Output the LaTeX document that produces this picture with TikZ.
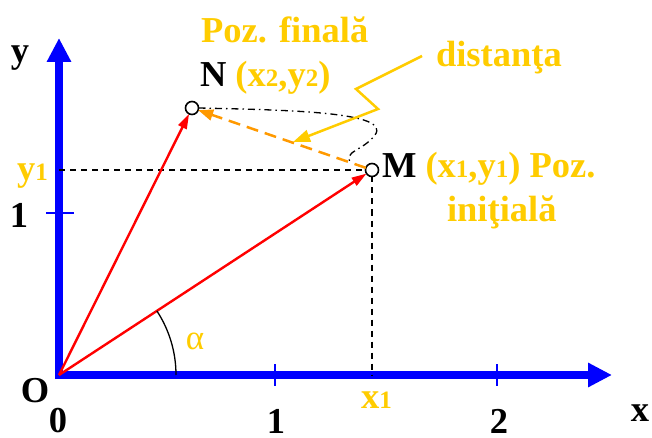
\documentclass[tikz,border=0pt]{standalone}
\usepackage{fontspec}
\setmainfont{Liberation Serif}
\usetikzlibrary{arrows.meta}
\definecolor{gold}{RGB}{255,204,0}
\definecolor{orng}{RGB}{255,153,0}
\newcommand\sbs[1]{{\fontsize{25}{25}\selectfont #1}}
\begin{document}
\begin{tikzpicture}[x=1pt,y=-1pt,
  every node/.style={inner sep=0pt, outer sep=0pt},
  big/.style={font=\fontsize{36.5}{40}\selectfont\bfseries},
  greek/.style={font=\fontsize{35}{40}\selectfont},
  axisline/.style={blue, line width=8pt, -{Triangle[length=24pt,width=23pt]}},
  tickmark/.style={blue, line width=2pt},
  vec/.style={red, line width=2.4pt, -{Triangle[length=15pt,width=9pt]}},
  guide/.style={black, line width=1.3pt, dash pattern=on 6pt off 5pt},
  dashdot/.style={black, line width=1.3pt, dash pattern=on 7pt off 4pt on 1.5pt off 4pt},
  pnt/.style={circle, draw=black, fill=white, line width=1.6pt, minimum size=13pt},
  zig/.style={gold, line width=2.5pt, -{Triangle[length=17pt,width=12pt]}},
  dist/.style={orng, line width=2.5pt, dash pattern=on 12pt off 7pt, -{Triangle[length=15pt,width=11pt]}}]
\useasboundingbox (0,0) rectangle (652,438);

% axes
\coordinate (O) at (59,375);
\coordinate (xstart) at (55,375);
\coordinate (xend) at (612,375);
\coordinate (ystart) at (59,379);
\coordinate (yend) at (59,38);
\draw[axisline] (xstart) -- (xend);
\draw[axisline] (ystart) -- (yend);

% ticks
\coordinate (t1a) at (275,364); \coordinate (t1b) at (275,386);
\coordinate (t2a) at (497,364); \coordinate (t2b) at (497,386);
\coordinate (tya) at (46,213);  \coordinate (tyb) at (74,213);
\draw[tickmark] (t1a) -- (t1b);
\draw[tickmark] (t2a) -- (t2b);
\draw[tickmark] (tya) -- (tyb);

% points
\node[pnt] (M) at (372,170) {};
\node[pnt] (N) at (192,108) {};

% guides
\coordinate (yM) at (59,170);
\coordinate (xM) at (372,375);
\draw[guide] (yM) -- (M.west);
\draw[guide] (M.south) -- (xM);

% dash-dot curve
\coordinate (c1) at (375,135);
\coordinate (c2) at (351,164);
\draw[dashdot] (N.east) .. controls (290,110) and (392,112) .. (c1)
  .. controls (362,152) and (343,150) .. (c2);

% vectors
\draw[vec] (O) -- (M);
\draw[vec] (O) -- (N);

% distance
\draw[dist] (M) -- (N);

% zigzag pointer
\coordinate (z0) at (422,56);
\coordinate (z1) at (356,89);
\coordinate (z2) at (378,109);
\coordinate (z3) at (293,142);
\draw[zig] (z0) -- (z1) -- (z2) -- (z3);

% angle
\coordinate (a0) at (176,375);
\draw[black, line width=1.3pt] (a0) arc[start angle=0, end angle=33.2, radius=117pt];
\node[greek, text=gold] (alpha) at (195,341) {α};

% labels
\node[big] (ylab) at (20,58) {y};
\node[big] (xlab) at (640,413) {x};
\node[big] (Olab) at (35,391) {O};
\node[big] (zero) at (58,421) {0};
\node[big] (one) at (276,421) {1};
\node[big] (two) at (499,421) {2};
\node[big] (oney) at (19,215) {1};
\node[big, text=gold, anchor=base west] (y1lab) at (17,181) {y\sbs{1}};
\node[big, text=gold, anchor=base west] (x1lab) at (361,408) {x\sbs{1}};

\node[big, text=gold, anchor=base west] (fin) at (201,43) {Poz. finală};
\node[big, anchor=base west] (Nlab) at (200,87) {N {\color{gold}(x\sbs{2},y\sbs{2})}};
\node[big, text=gold, anchor=base west] (dlab) at (436,67) {distanţa};
\node[big, anchor=base west] (Mlab) at (382,178) {M {\color{gold}(x\sbs{1},y\sbs{1}) Poz.}};
\node[big, text=gold, anchor=base west] (ini) at (447,222) {iniţială};
\end{tikzpicture}
\end{document}
